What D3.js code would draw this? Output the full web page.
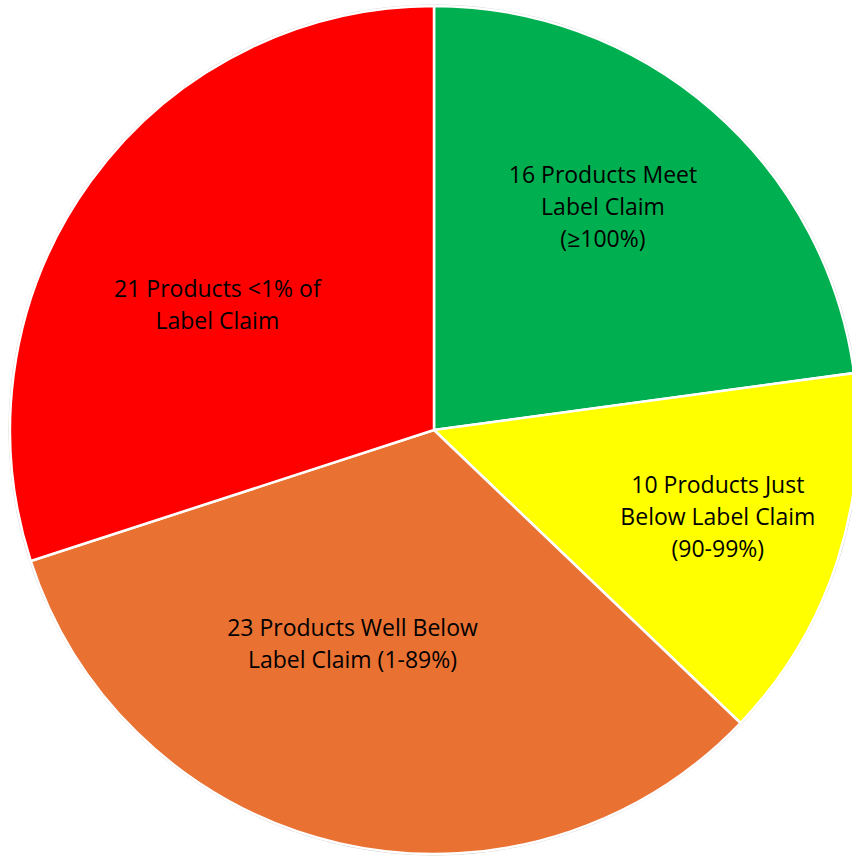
<!DOCTYPE html>
<html>
<head>
<meta charset="utf-8">
<script src="https://cdn.jsdelivr.net/npm/d3@7"></script>
<style>
  html, body { margin: 0; padding: 0; background: #ffffff; }
  svg { display: block; }
  .label { font-family: "Open Sans", "Noto Sans", sans-serif; font-size: 23px; fill: #000; }
</style>
</head>
<body>
<svg id="pie" width="852" height="857"></svg>
<script>
// data, in drawing order (clockwise from 12 o'clock)
var categories = ["Meet Label Claim", "Just Below Label Claim", "Well Below Label Claim", "<1% of Label Claim"];
var counts = [16, 10, 23, 21];
var labelLines = [
    ["16 Products Meet", "Label Claim", "(\u2265100%)"],
    ["10 Products Just", "Below Label Claim", "(90-99%)"],
    ["23 Products Well Below", "Label Claim (1-89%)"],
    ["21 Products <1% of", "Label Claim"]
];
var sliceColors = ["#00B050", "#FFFF00", "#E97132", "#FF0000"];

// where each label sits: fraction of the radius, and turn (deg) from the slice middle
var labelRadius = [0.66, 0.70, 0.54, 0.59];
var labelTurn = [-4, -1, 8, -6];

var svg = d3.select("svg#pie"),
    cx = 434,
    cy = 430,
    radius = 424;

var pie = d3.pie().sort(null).value(function(d) { return d; });
var arcs = pie(counts);

var arc = d3.arc().innerRadius(0).outerRadius(radius);

var g = svg.append("g")
    .attr("transform", "translate(" + cx + "," + cy + ")");

// faint outer ring
g.append("circle")
    .attr("r", radius + 1)
    .attr("fill", "none")
    .attr("stroke", "#c8c8c8")
    .attr("stroke-width", 1);

g.selectAll("path.slice")
    .data(arcs)
    .enter().append("path")
    .attr("class", "slice")
    .attr("d", arc)
    .attr("fill", function(d, i) { return sliceColors[i]; })
    .attr("stroke", "#ffffff")
    .attr("stroke-width", 2.5)
    .attr("stroke-linejoin", "round");

var lineHeight = 32;

var labels = g.selectAll("text.label")
    .data(arcs)
    .enter().append("text")
    .attr("class", "label")
    .attr("text-anchor", "middle")
    .attr("transform", function(d, i) {
        var mid = (d.startAngle + d.endAngle) / 2 + labelTurn[i] * Math.PI / 180;
        var r = radius * labelRadius[i];
        return "translate(" + (Math.sin(mid) * r) + "," + (-Math.cos(mid) * r) + ")";
    });

labels.each(function(d, i) {
    var lines = labelLines[i];
    var t = d3.select(this);
    lines.forEach(function(s, j) {
        t.append("tspan")
            .attr("x", 0)
            .attr("y", (j - (lines.length - 1) / 2) * lineHeight)
            .attr("dy", "0.35em")
            .text(s);
    });
});
</script>
</body>
</html>
